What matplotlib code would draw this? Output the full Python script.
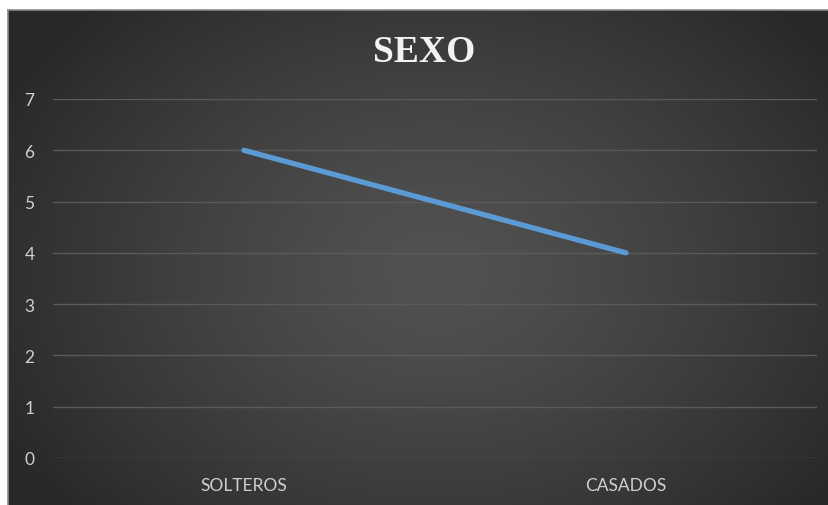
import matplotlib
matplotlib.use("Agg")
import matplotlib.pyplot as plt
import numpy as np

categories = ["SOLTEROS", "CASADOS"]
values = [6, 4]
yticks = [0, 1, 2, 3, 4, 5, 6, 7]
title = "SEXO"

W, H, DPI = 829, 506, 100
fig = plt.figure(figsize=(W / DPI, H / DPI), dpi=DPI, facecolor="white")

# dark gradient panel
x0, y0 = 8 / W, 0.0
pw, ph = 1 - x0, (H - 11) / H
bg = fig.add_axes([x0, y0, pw, ph])
bg.set_axis_off()
ny, nx = 200, 330
yy, xx = np.mgrid[0:ny, 0:nx]
cx, cy = nx * 0.52, ny * 0.52
r = np.sqrt(((xx - cx) / (nx * 0.6)) ** 2 + ((yy - cy) / (ny * 0.75)) ** 2)
r = np.clip(r, 0, 1)
c_in, c_out = 0x52 / 255, 0x28 / 255
img = c_in + (c_out - c_in) * r ** 1.3
bg.imshow(np.dstack([img, img, img]), aspect="auto", extent=[0, 1, 0, 1], interpolation="bilinear")
bg.set_xlim(0, 1)
bg.set_ylim(0, 1)
bg.plot([0, 0], [0, 1], color="#8a8a8a", lw=1.2, transform=bg.transAxes, clip_on=False)
bg.plot([0, 1], [1, 1], color="#8a8a8a", lw=1.2, transform=bg.transAxes, clip_on=False)

# plot axes: gridlines x 53..817, y0=459, y7=100
left = 53 / W
right = 817 / W
bottom = 1 - 459 / H
top = 1 - 100 / H
ax = fig.add_axes([left, bottom, right - left, top - bottom])
ax.set_facecolor("none")
xs = np.arange(len(categories))
ax.plot(xs, values, color="#5b9bd5", lw=3.8, solid_capstyle="round", zorder=3)
ax.set_xlim(-0.5, len(categories) - 0.5)
ax.set_ylim(0, 7)
ax.set_yticks(yticks)
ax.set_xticks(xs)
ax.set_xticklabels(categories)
ax.grid(axis="y", color="#5a5a5a", lw=1.0)
ax.set_axisbelow(True)
for s in ax.spines.values():
    s.set_visible(False)
ax.tick_params(axis="both", length=0, colors="#d0d0d0", labelsize=12.5)
for lab in ax.get_xticklabels() + ax.get_yticklabels():
    lab.set_fontfamily("Lato")
ax.tick_params(axis="x", pad=14)
for lab in ax.get_yticklabels():
    lab.set_horizontalalignment("center")
ax.tick_params(axis="y", pad=17)

fig.text(424 / W, 1 - 52 / H, title, ha="center", va="center", color="#f2f2f2",
         fontsize=27, fontweight="bold", family="Liberation Serif")

fig.savefig("out.png", dpi=DPI, facecolor="white")
